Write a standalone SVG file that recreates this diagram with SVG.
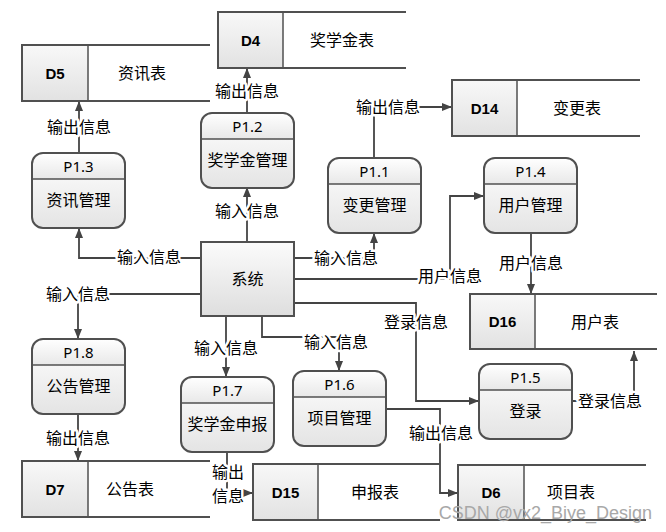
<svg xmlns="http://www.w3.org/2000/svg" width="666" height="532" viewBox="0 0 666 532">
<defs>
<linearGradient id="gBody" x1="0" y1="0" x2="0" y2="1"><stop offset="0" stop-color="#ffffff"/><stop offset="1" stop-color="#e4e4e4"/></linearGradient>
<linearGradient id="gTitle" x1="0" y1="0" x2="0" y2="1"><stop offset="0" stop-color="#ffffff"/><stop offset="1" stop-color="#e8e8e8"/></linearGradient>
<linearGradient id="gSys" x1="0" y1="0" x2="0" y2="1"><stop offset="0" stop-color="#fbfbfb"/><stop offset="1" stop-color="#dedede"/></linearGradient>
<linearGradient id="gCell" x1="0" y1="0" x2="0" y2="1"><stop offset="0" stop-color="#f8f8f8"/><stop offset="1" stop-color="#e2e2e2"/></linearGradient>
<marker id="arr" viewBox="0 0 10 10" refX="10" refY="5" markerWidth="10" markerHeight="10" markerUnits="userSpaceOnUse" orient="auto"><path d="M0,1 L10,5 L0,9 Z" fill="#444"/></marker>
</defs>
<style>
.pbody{fill:url(#gBody);stroke:none}
.ptitle{fill:url(#gTitle);stroke:none}
.pframe{fill:none;stroke:#505050;stroke-width:2}
.div{stroke:#505050;stroke-width:1.5}
.pid{font-family:"Noto Sans","Liberation Sans",sans-serif;font-size:15px;text-anchor:middle;fill:#000}
.pname{font-family:"Noto Sans CJK SC",sans-serif;font-size:16px;text-anchor:middle;fill:#000}
.sys{fill:url(#gSys);stroke:#505050;stroke-width:2}
.dcell{fill:url(#gCell);stroke:#505050;stroke-width:1.5}
.dline{fill:none;stroke:#505050;stroke-width:2}
.did{font-family:"Liberation Sans",sans-serif;font-weight:bold;font-size:15px;text-anchor:middle;fill:#000}
.dname{font-family:"Noto Sans CJK SC",sans-serif;font-size:16px;text-anchor:middle;fill:#000}
.conn path{fill:none;stroke:#444;stroke-width:1.8;marker-end:url(#arr)}
.lbl{font-family:"Noto Sans CJK SC",sans-serif;font-size:16px;text-anchor:middle;fill:#000;stroke:#fff;stroke-width:5;stroke-linejoin:round;paint-order:stroke}
.wm{font-family:"Liberation Sans",sans-serif;font-size:18px;fill:#a8a8a8;text-anchor:end}
</style>
<rect width="666" height="532" fill="#fff"/>

<g id="connectors" class="conn">
<path d="M201,258 H79 V228"/>
<path d="M247,242 V187"/>
<path d="M247,113 V68"/>
<path d="M79,153 V101"/>
<path d="M294,258 H374 V233"/>
<path d="M374,158 V107 H452"/>
<path d="M294,279 H450 V196 H484"/>
<path d="M531,233 V294"/>
<path d="M294,303 H416 V401 H479"/>
<path d="M572,401 H634 V351"/>
<path d="M201,294 H78 V339"/>
<path d="M78,414 V461"/>
<path d="M226,316 V377"/>
<path d="M262,316 V337 H339 V371"/>
<path d="M227,452 V493 H253"/>
<path d="M386,409 H440 V493 H458"/>
</g>

<g id="labels">
<text class="lbl" x="149" y="263">输入信息</text>
<text class="lbl" x="247" y="217">输入信息</text>
<text class="lbl" x="247" y="97">输出信息</text>
<text class="lbl" x="79" y="133">输出信息</text>
<text class="lbl" x="346" y="264">输入信息</text>
<text class="lbl" x="388" y="113">输出信息</text>
<text class="lbl" x="450" y="282">用户信息</text>
<text class="lbl" x="531" y="269">用户信息</text>
<text class="lbl" x="416" y="328">登录信息</text>
<text class="lbl" x="610" y="407">登录信息</text>
<text class="lbl" x="78" y="300">输入信息</text>
<text class="lbl" x="78" y="444">输出信息</text>
<text class="lbl" x="226" y="354">输入信息</text>
<text class="lbl" x="336" y="348">输入信息</text>
<text class="lbl" x="228" y="478">输出<tspan x="228" dy="24">信息</tspan></text>
<text class="lbl" x="441" y="439">输出信息</text>
</g>

<g id="sys">
<rect class="sys" x="201" y="242" width="93" height="74"/>
<text class="pname" x="247.5" y="285">系统</text>
</g>

<g id="p1-3" transform="translate(32,153)">
<rect class="pbody" width="93" height="75" rx="11"/>
<path class="ptitle" d="M0,26 V11 A11,11 0 0 1 11,0 H82 A11,11 0 0 1 93,11 V26 Z"/>
<rect class="pframe" width="93" height="75" rx="11"/>
<line class="div" x1="0" y1="26" x2="93" y2="26"/>
<text class="pid" x="46.5" y="19">P1.3</text>
<text class="pname" x="46.5" y="53">资讯管理</text>
</g>
<g id="p1-2" transform="translate(201,113)">
<rect class="pbody" width="93" height="75" rx="11"/>
<path class="ptitle" d="M0,26 V11 A11,11 0 0 1 11,0 H82 A11,11 0 0 1 93,11 V26 Z"/>
<rect class="pframe" width="93" height="75" rx="11"/>
<line class="div" x1="0" y1="26" x2="93" y2="26"/>
<text class="pid" x="46.5" y="19">P1.2</text>
<text class="pname" x="46.5" y="53">奖学金管理</text>
</g>
<g id="p1-1" transform="translate(328,158)">
<rect class="pbody" width="93" height="75" rx="11"/>
<path class="ptitle" d="M0,26 V11 A11,11 0 0 1 11,0 H82 A11,11 0 0 1 93,11 V26 Z"/>
<rect class="pframe" width="93" height="75" rx="11"/>
<line class="div" x1="0" y1="26" x2="93" y2="26"/>
<text class="pid" x="46.5" y="19">P1.1</text>
<text class="pname" x="46.5" y="53">变更管理</text>
</g>
<g id="p1-4" transform="translate(484,158)">
<rect class="pbody" width="93" height="75" rx="11"/>
<path class="ptitle" d="M0,26 V11 A11,11 0 0 1 11,0 H82 A11,11 0 0 1 93,11 V26 Z"/>
<rect class="pframe" width="93" height="75" rx="11"/>
<line class="div" x1="0" y1="26" x2="93" y2="26"/>
<text class="pid" x="46.5" y="19">P1.4</text>
<text class="pname" x="46.5" y="53">用户管理</text>
</g>
<g id="p1-8" transform="translate(32,339)">
<rect class="pbody" width="93" height="75" rx="11"/>
<path class="ptitle" d="M0,26 V11 A11,11 0 0 1 11,0 H82 A11,11 0 0 1 93,11 V26 Z"/>
<rect class="pframe" width="93" height="75" rx="11"/>
<line class="div" x1="0" y1="26" x2="93" y2="26"/>
<text class="pid" x="46.5" y="19">P1.8</text>
<text class="pname" x="46.5" y="53">公告管理</text>
</g>
<g id="p1-7" transform="translate(181,377)">
<rect class="pbody" width="93" height="75" rx="11"/>
<path class="ptitle" d="M0,26 V11 A11,11 0 0 1 11,0 H82 A11,11 0 0 1 93,11 V26 Z"/>
<rect class="pframe" width="93" height="75" rx="11"/>
<line class="div" x1="0" y1="26" x2="93" y2="26"/>
<text class="pid" x="46.5" y="19">P1.7</text>
<text class="pname" x="46.5" y="53">奖学金申报</text>
</g>
<g id="p1-6" transform="translate(293,371)">
<rect class="pbody" width="93" height="75" rx="11"/>
<path class="ptitle" d="M0,26 V11 A11,11 0 0 1 11,0 H82 A11,11 0 0 1 93,11 V26 Z"/>
<rect class="pframe" width="93" height="75" rx="11"/>
<line class="div" x1="0" y1="26" x2="93" y2="26"/>
<text class="pid" x="46.5" y="19">P1.6</text>
<text class="pname" x="46.5" y="53">项目管理</text>
</g>
<g id="p1-5" transform="translate(479,364)">
<rect class="pbody" width="93" height="75" rx="11"/>
<path class="ptitle" d="M0,26 V11 A11,11 0 0 1 11,0 H82 A11,11 0 0 1 93,11 V26 Z"/>
<rect class="pframe" width="93" height="75" rx="11"/>
<line class="div" x1="0" y1="26" x2="93" y2="26"/>
<text class="pid" x="46.5" y="19">P1.5</text>
<text class="pname" x="46.5" y="53">登录</text>
</g>

<g id="d5">
<rect class="dcell" x="22" y="45" width="66" height="56"/>
<path class="dline" d="M210,45 H22 V101 H210"/>
<text class="did" x="55" y="78.5">D5</text>
<text class="dname" x="142" y="79">资讯表</text>
</g>
<g id="d4">
<rect class="dcell" x="218" y="12" width="65" height="56"/>
<path class="dline" d="M406,12 H218 V68 H406"/>
<text class="did" x="250.5" y="45.5">D4</text>
<text class="dname" x="342" y="46">奖学金表</text>
</g>
<g id="d14">
<rect class="dcell" x="452" y="80" width="65" height="56"/>
<path class="dline" d="M640,80 H452 V136 H640"/>
<text class="did" x="484.5" y="113.5">D14</text>
<text class="dname" x="577" y="114">变更表</text>
</g>
<g id="d16">
<rect class="dcell" x="470" y="294" width="65" height="55"/>
<path class="dline" d="M657,294 H470 V349 H657"/>
<text class="did" x="502.5" y="327">D16</text>
<text class="dname" x="595" y="328">用户表</text>
</g>
<g id="d7">
<rect class="dcell" x="22" y="461" width="66" height="56"/>
<path class="dline" d="M210,461 H22 V517 H210"/>
<text class="did" x="55" y="494.5">D7</text>
<text class="dname" x="130" y="495">公告表</text>
</g>
<g id="d15">
<rect class="dcell" x="253" y="464" width="65" height="56"/>
<path class="dline" d="M440,464 H253 V520 H440"/>
<text class="did" x="285.5" y="497.5">D15</text>
<text class="dname" x="375" y="498">申报表</text>
</g>
<g id="d6">
<rect class="dcell" x="458" y="465" width="66" height="55"/>
<path class="dline" d="M646,465 H458 V520 H646"/>
<text class="did" x="491" y="498">D6</text>
<text class="dname" x="571" y="498">项目表</text>
</g>

<text class="wm" x="652" y="519">CSDN @vx2_Biye_Design</text>
</svg>
